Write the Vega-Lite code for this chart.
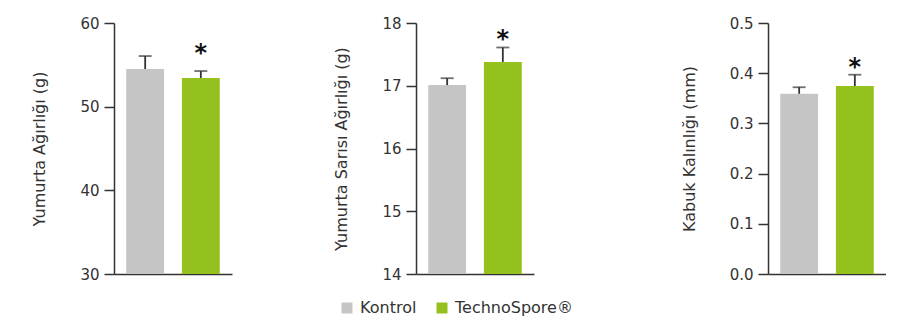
{
  "$schema": "https://vega.github.io/schema/vega-lite/v6.json",
  "padding": {"left": 31, "top": 16, "right": 0, "bottom": 0},
  "background": "white",
  "datasets": {
    "bars": [
      {"panel": "A", "group": "Kontrol", "value": 54.5, "err": 56.05, "star": "", "star_y": null},
      {"panel": "A", "group": "TechnoSpore®", "value": 53.43, "err": 54.26, "star": "*", "star_y": 56.77},
      {"panel": "B", "group": "Kontrol", "value": 17.01, "err": 17.12, "star": "", "star_y": null},
      {"panel": "B", "group": "TechnoSpore®", "value": 17.38, "err": 17.61, "star": "*", "star_y": 17.8},
      {"panel": "C", "group": "Kontrol", "value": 0.359, "err": 0.372, "star": "", "star_y": null},
      {"panel": "C", "group": "TechnoSpore®", "value": 0.3745, "err": 0.397, "star": "*", "star_y": 0.418}
    ]
  },
  "hconcat": [
    {
      "spacing": 101,
      "hconcat": [
        {
          "width": 118, "height": 251,
          "data": {"name": "bars"},
          "transform": [{"filter": "datum.panel === 'A'"}],
          "encoding": {
            "x": {"field": "group", "type": "nominal", "sort": ["Kontrol", "TechnoSpore®"],
              "scale": {"paddingInner": 0.32, "paddingOuter": 0.22},
              "axis": {"title": null, "labels": false, "ticks": false}}
          },
          "layer": [
            {"mark": {"type": "bar", "clip": true},
             "encoding": {
               "y": {"field": "value", "type": "quantitative", "scale": {"domain": [30, 60], "nice": false, "zero": false},
                 "axis": {"title": "Yumurta Ağırlığı (g)", "values": [30, 40, 50, 60], "format": "d"}},
               "color": {"field": "group", "type": "nominal", "scale": {"domain": ["Kontrol", "TechnoSpore®"], "range": ["#c6c5c6", "#95c11f"]},
                 "legend": {"orient": "none", "legendX": 225, "legendY": 277, "direction": "horizontal", "title": null, "symbolType": "square", "symbolSize": 121, "symbolStrokeWidth": 0, "labelFontSize": 16, "labelColor": "#333", "labelOffset": 5, "columnPadding": 17, "labelFont": "DejaVu Sans"}}
             }},
            {"mark": {"type": "rule", "color": "#333", "strokeWidth": 1.8},
             "encoding": {"y": {"field": "value", "type": "quantitative"}, "y2": {"field": "err"}}},
            {"mark": {"type": "tick", "color": "#333", "thickness": 1.8, "size": 13, "orient": "horizontal"},
             "encoding": {"y": {"field": "err", "type": "quantitative"}}},
            {"mark": {"type": "text", "fontSize": 24, "fontWeight": "bold", "color": "#111", "baseline": "middle", "dy": 4},
             "encoding": {"y": {"field": "star_y", "type": "quantitative"}, "text": {"field": "star"}}}
          ]
        },
        {
          "width": 118, "height": 251,
          "data": {"name": "bars"},
          "transform": [{"filter": "datum.panel === 'B'"}],
          "encoding": {
            "x": {"field": "group", "type": "nominal", "sort": ["Kontrol", "TechnoSpore®"],
              "scale": {"paddingInner": 0.32, "paddingOuter": 0.22},
              "axis": {"title": null, "labels": false, "ticks": false}}
          },
          "layer": [
            {"mark": {"type": "bar", "clip": true},
             "encoding": {
               "y": {"field": "value", "type": "quantitative", "scale": {"domain": [14, 18], "nice": false, "zero": false},
                 "axis": {"title": "Yumurta Sarısı Ağırlığı (g)", "values": [14, 15, 16, 17, 18], "format": "d"}},
               "color": {"field": "group", "type": "nominal", "scale": {"domain": ["Kontrol", "TechnoSpore®"], "range": ["#c6c5c6", "#95c11f"]}}
             }},
            {"mark": {"type": "rule", "color": "#333", "strokeWidth": 1.8},
             "encoding": {"y": {"field": "value", "type": "quantitative"}, "y2": {"field": "err"}}},
            {"mark": {"type": "tick", "color": "#333", "thickness": 1.8, "size": 13, "orient": "horizontal"},
             "encoding": {"y": {"field": "err", "type": "quantitative"}}},
            {"mark": {"type": "text", "fontSize": 24, "fontWeight": "bold", "color": "#111", "baseline": "middle", "dy": 4},
             "encoding": {"y": {"field": "star_y", "type": "quantitative"}, "text": {"field": "star"}}}
          ]
        }
      ]
    },
    {
      "width": 118, "height": 251,
      "data": {"name": "bars"},
      "transform": [{"filter": "datum.panel === 'C'"}],
      "encoding": {
        "x": {"field": "group", "type": "nominal", "sort": ["Kontrol", "TechnoSpore®"],
          "scale": {"paddingInner": 0.32, "paddingOuter": 0.22},
          "axis": {"title": null, "labels": false, "ticks": false}}
      },
      "layer": [
        {"mark": {"type": "bar", "clip": true},
         "encoding": {
           "y": {"field": "value", "type": "quantitative", "scale": {"domain": [0, 0.5], "nice": false},
             "axis": {"title": "Kabuk Kalınlığı (mm)", "values": [0, 0.1, 0.2, 0.3, 0.4, 0.5], "format": ".1f"}},
           "color": {"field": "group", "type": "nominal", "scale": {"domain": ["Kontrol", "TechnoSpore®"], "range": ["#c6c5c6", "#95c11f"]}}
         }},
        {"mark": {"type": "rule", "color": "#333", "strokeWidth": 1.8},
         "encoding": {"y": {"field": "value", "type": "quantitative"}, "y2": {"field": "err"}}},
        {"mark": {"type": "tick", "color": "#333", "thickness": 1.8, "size": 13, "orient": "horizontal"},
         "encoding": {"y": {"field": "err", "type": "quantitative"}}},
        {"mark": {"type": "text", "fontSize": 24, "fontWeight": "bold", "color": "#111", "baseline": "middle", "dy": 4},
         "encoding": {"y": {"field": "star_y", "type": "quantitative"}, "text": {"field": "star"}}}
      ]
    }
  ],
  "spacing": 147,
  "resolve": {"scale": {"y": "independent", "x": "independent"}},
  "config": {
    "font": "DejaVu Sans",
    "view": {"stroke": null},
    "axis": {
      "grid": false,
      "domainColor": "#333", "domainWidth": 1.5,
      "tickColor": "#333", "tickWidth": 1.5, "tickSize": 10,
      "labelFontSize": 15, "labelColor": "#333", "labelPadding": 5, "labelFont": "DejaVu Sans",
      "titleFontSize": 16, "titleFontWeight": "normal", "titleColor": "#333", "titlePadding": 32, "titleFont": "DejaVu Sans"
    }
  }
}
